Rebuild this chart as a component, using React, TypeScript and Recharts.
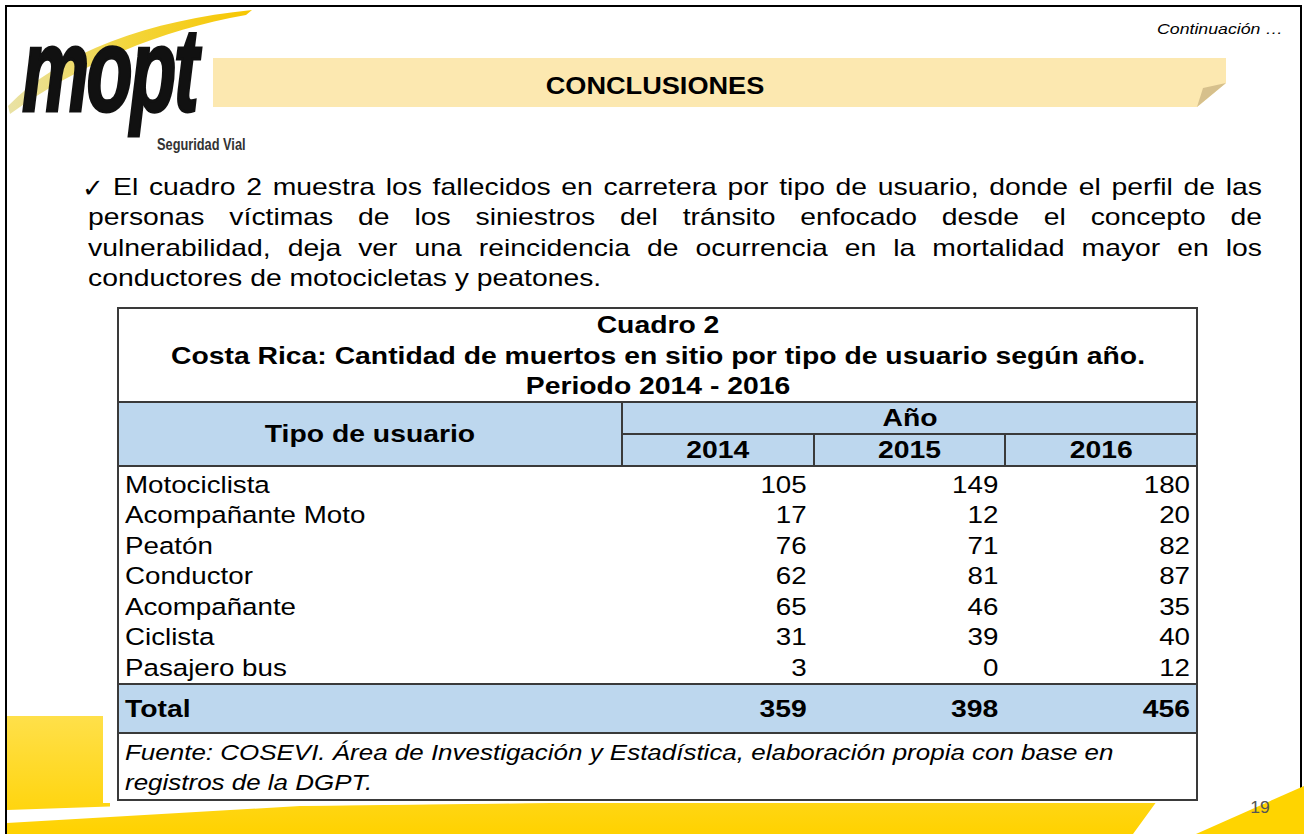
import React from 'react';
import { ScatterChart, Scatter, XAxis, YAxis } from 'recharts';

// Cuadro 2: muertos en sitio por tipo de usuario
const tipos = ['Motociclista', 'Acompañante Moto', 'Peatón', 'Conductor', 'Acompañante', 'Ciclista', 'Pasajero bus'];
const years = ['2014', '2015', '2016'];
const muertos2014 = [105, 17, 76, 62, 65, 31, 3];
const muertos2015 = [149, 12, 71, 81, 46, 39, 0];
const muertos2016 = [180, 20, 82, 87, 35, 40, 12];
const totales = [359, 398, 456];

const bodyLines = [
  'El cuadro 2 muestra los fallecidos en carretera por tipo de usuario, donde el perfil de las',
  'personas víctimas de los siniestros del tránsito enfocado desde el concepto de',
  'vulnerabilidad, deja ver una reincidencia de ocurrencia en la mortalidad mayor en los',
  'conductores de motocicletas y peatones.',
];
const titleLines = ['Cuadro 2', 'Costa Rica: Cantidad de muertos en sitio por tipo de usuario según año.', 'Periodo 2014 - 2016'];
const fuenteLines = ['Fuente: COSEVI. Área de Investigación y Estadística, elaboración propia con base en', 'registros de la DGPT.'];

const series = [muertos2014, muertos2015, muertos2016];
const cells = tipos.flatMap((tipo, i) => years.map((year, j) => ({ tipo, year, value: series[j][i] })));
const totalCells = years.map((year, j) => ({ tipo: 'Total', year, value: totales[j] }));

// the slide is stretched horizontally, so text gets a scaleX
const S = 1.18;
const FONT = '"Liberation Sans", Arial, Helvetica, sans-serif';
const TABLE_X = 118;
const TABLE_W = 1079;
const LABEL_W = 504;
const COL_W = (TABLE_W - LABEL_W) / 3;
const LINE = '#3a3a3a';
const BLUE = '#bdd7ee';
const YELLOW = '#ffd400';

type TxtProps = {
  x: number; y: number; size: number; children: React.ReactNode;
  bold?: boolean; italic?: boolean; align?: 'left' | 'center' | 'right';
  color?: string; sx?: number; family?: string;
};

const Txt = ({ x, y, size, children, bold, italic, align = 'left', color = '#000', sx = S, family = FONT }: TxtProps) => {
  const tx = align === 'left' ? '0' : align === 'center' ? '-50%' : '-100%';
  return (
    <div style={{
      position: 'absolute', left: x, top: y, fontFamily: family, fontSize: size,
      fontWeight: bold ? 700 : 400, fontStyle: italic ? 'italic' : 'normal', color,
      lineHeight: 1, whiteSpace: 'nowrap', transformOrigin: `${align} center`,
      transform: `translate(${tx}, -50%) scaleX(${sx})`,
    }}>{children}</div>
  );
};

const HLine = ({ y, x1, x2 }: { y: number; x1: number; x2: number }) => (
  <div style={{ position: 'absolute', left: x1, top: y - 1, width: x2 - x1, height: 2, background: LINE }} />
);
const VLine = ({ x, y1, y2 }: { x: number; y1: number; y2: number }) => (
  <div style={{ position: 'absolute', left: x - 1, top: y1, width: 2, height: y2 - y1, background: LINE }} />
);

const YearTick = (p: any) => (
  <text transform={`translate(${p.x},16) scale(${S},1)`} textAnchor="middle" dy="0.35em"
    fontFamily={FONT} fontSize={24} fontWeight={700} fill="#000">{p.payload.value}</text>
);

const makeRowTick = (bold: boolean) => (p: any) => (
  <text transform={`translate(7,${p.y}) scale(${S},1)`} dy="0.35em" fontFamily={FONT}
    fontSize={bold ? 24 : 23.5} fontWeight={bold ? 700 : 400} fill="#000">{p.payload.value}</text>
);

const makeCell = (bold: boolean) => (p: any) => (
  <text transform={`translate(${p.cx + COL_W / 2 - 7},${p.cy}) scale(${S},1)`} textAnchor="end" dy="0.35em"
    fontFamily={FONT} fontSize={bold ? 24 : 23.5} fontWeight={bold ? 700 : 400} fill="#000">{p.payload.value}</text>
);

const CellChart = ({ data, top, height, axisHeight, bold }: { data: any[]; top: number; height: number; axisHeight: number; bold: boolean }) => (
  <div style={{ position: 'absolute', left: TABLE_X, top }}>
    <ScatterChart width={TABLE_W} height={height} margin={{ top: 0, right: 0, bottom: 0, left: 0 }}>
      <XAxis type="category" dataKey="year" orientation="top" allowDuplicatedCategory={false}
        height={axisHeight} hide={axisHeight === 0} axisLine={false} tickLine={false} interval={0} tick={YearTick} />
      <YAxis type="category" dataKey="tipo" width={LABEL_W} allowDuplicatedCategory={false} reversed
        axisLine={false} tickLine={false} interval={0} tick={makeRowTick(bold)} />
      <Scatter data={data} isAnimationActive={false} shape={makeCell(bold)} />
    </ScatterChart>
  </div>
);

const App = () => (
  <div style={{ position: 'fixed', left: 0, top: 0, width: 1304, height: 834, overflow: 'hidden', background: '#fff' }}>
    {/* slide frame */}
    <div style={{ position: 'absolute', left: 5, top: 5, width: 1297, height: 900, border: '2px solid #000', boxSizing: 'border-box' }} />

    {/* decorations */}
    <svg width={1304} height={834} style={{ position: 'absolute', left: 0, top: 0 }}>
      <defs>
        <linearGradient id="swoosh" x1="0" y1="0" x2="1" y2="0">
          <stop offset="0" stopColor="#e9e2a6" />
          <stop offset="0.5" stopColor="#f3d53a" />
          <stop offset="1" stopColor="#f7c600" />
        </linearGradient>
        <linearGradient id="band" x1="0" y1="0" x2="0" y2="1">
          <stop offset="0" stopColor="#ffe04a" />
          <stop offset="1" stopColor="#ffd200" />
        </linearGradient>
      </defs>
      <path d="M 8 106 C 60 52 150 20 252 10 L 246 15 C 160 30 80 64 10 114 Z" fill="url(#swoosh)" />
      <polygon points="213,58 1226,58 1226,83 1197,107 213,107" fill="#fce8b0" />
      <polygon points="1226,83 1203,88 1197,107" fill="#d6c08c" />
      <polygon points="7,716 110,716 110,808 600,802 1157,801 1133,834 7,834" fill="url(#band)" />
      <polygon points="7,810 300,800 900,797 900,799 300,806 7,823" fill="#fff" />
      <polygon points="1196,834 1304,786 1304,834" fill={YELLOW} />
    </svg>

    {/* logo */}
    <svg width={300} height={170} style={{ position: 'absolute', left: 0, top: 0 }}>
      <text transform="translate(22,111) scale(0.64,1)" fontFamily={FONT} fontSize={118} fontWeight={700}
        fontStyle="italic" letterSpacing={-4} fill="#111" stroke="#111" strokeWidth={3}>mopt</text>
      <text transform="translate(157,150) scale(0.8,1)" fontFamily={FONT} fontSize={16} fontWeight={700} fill="#333">Seguridad Vial</text>
    </svg>

    <Txt x={655} y={86} size={23} bold align="center">CONCLUSIONES</Txt>
    <Txt x={1283} y={28} size={15} italic align="right">Continuación …</Txt>

    {/* bullet paragraph */}
    <Txt x={82} y={188} size={26} sx={1} family='"DejaVu Sans", sans-serif'>✓</Txt>
    {bodyLines.map((t, i) => {
      const left = i === 0 ? 113 : 88;
      return (
        <div key={i} style={{
          position: 'absolute', left, top: 187 + i * 30.4, width: (1262 - left) / S,
          fontFamily: FONT, fontSize: 24, lineHeight: 1, color: '#000',
          textAlign: 'justify', textAlignLast: i < bodyLines.length - 1 ? 'justify' : 'left',
          transformOrigin: 'left center', transform: `translate(0, -50%) scaleX(${S})`,
        }}>{t}</div>
      );
    })}

    {/* table */}
    <div style={{ position: 'absolute', left: 103, top: 300, width: 1112, height: 503, background: '#fff' }} />
    <div style={{ position: 'absolute', left: TABLE_X, top: 402, width: TABLE_W, height: 64, background: BLUE }} />
    <div style={{ position: 'absolute', left: TABLE_X, top: 684, width: TABLE_W, height: 49, background: BLUE }} />
    <div style={{ position: 'absolute', left: TABLE_X - 1, top: 307, width: TABLE_W + 2, height: 494, border: `2px solid ${LINE}`, boxSizing: 'border-box' }} />
    <HLine y={402} x1={TABLE_X} x2={TABLE_X + TABLE_W} />
    <HLine y={434} x1={TABLE_X + LABEL_W} x2={TABLE_X + TABLE_W} />
    <HLine y={466} x1={TABLE_X} x2={TABLE_X + TABLE_W} />
    <VLine x={TABLE_X + LABEL_W} y1={402} y2={466} />
    <VLine x={TABLE_X + LABEL_W + COL_W} y1={434} y2={466} />
    <VLine x={TABLE_X + LABEL_W + 2 * COL_W} y1={434} y2={466} />
    <HLine y={684} x1={TABLE_X} x2={TABLE_X + TABLE_W} />
    <HLine y={733} x1={TABLE_X} x2={TABLE_X + TABLE_W} />

    {titleLines.map((t, i) => (
      <Txt key={i} x={658} y={325 + i * 30.5} size={24} bold align="center">{t}</Txt>
    ))}
    <Txt x={TABLE_X + LABEL_W / 2} y={434} size={24} bold align="center">Tipo de usuario</Txt>
    <Txt x={TABLE_X + LABEL_W + (TABLE_W - LABEL_W) / 2} y={418} size={24} bold align="center">Año</Txt>

    <CellChart data={cells} top={434} height={249} axisHeight={35} bold={false} />
    <CellChart data={totalCells} top={684} height={49} axisHeight={0} bold />

    {fuenteLines.map((t, i) => (
      <Txt key={i} x={125} y={753 + i * 30} size={22} italic>{t}</Txt>
    ))}

    <Txt x={1260} y={808} size={16} align="center" color="#555" sx={1.1}>19</Txt>
  </div>
);

export default App;
